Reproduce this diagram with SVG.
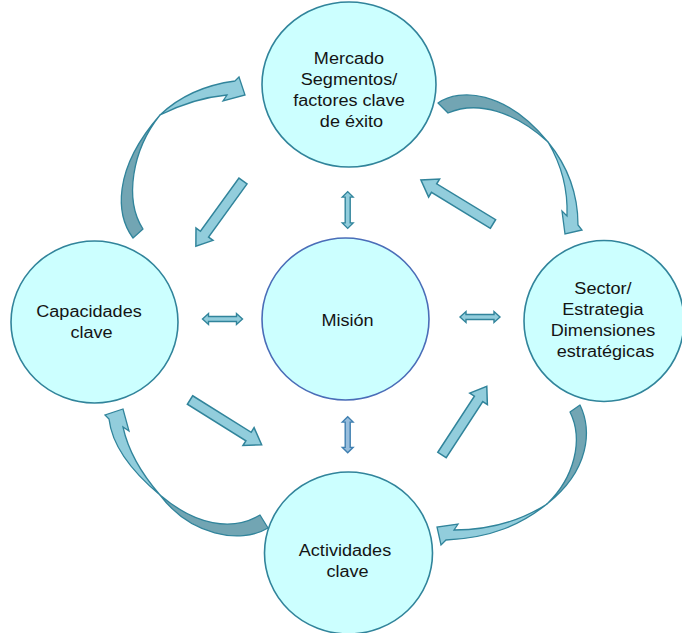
<svg xmlns="http://www.w3.org/2000/svg" xmlns:xlink="http://www.w3.org/1999/xlink" width="682" height="633" viewBox="0 0 682 633">
  <style>
    .node ellipse { fill: #CCFFFF; stroke: #31849B; stroke-width: 1.6; }
    #mision ellipse { stroke: #4A6DB8; }
    .lbl { font-family: "Liberation Sans", Arial, sans-serif; font-size: 16px; fill: #141414; text-anchor: middle; }
    .blk { fill: #92CDDC; stroke: #31849B; stroke-width: 1.5; stroke-linejoin: miter; }
    .dbl { fill: #92CDDC; stroke: #31849B; stroke-width: 1.4; }
    .dbl-b { fill: #98BEDD; stroke: #3F7FB0; stroke-width: 1.4; }
    .shade { fill: #72A5B3; stroke: #31849B; stroke-width: 1.3; stroke-linejoin: round; }
    .face { fill: #92CDDC; stroke: #31849B; stroke-width: 1.3; stroke-linejoin: miter; }
  </style>
  <defs>
    <!-- straight block arrow, tail at origin, pointing along +x -->
    <path id="blockArrow" d="M0,-5 L67,-5 L67,-10.5 L82,0 L67,10.5 L67,5 L0,5 Z"/>
    <!-- horizontal two-headed arrow centred on origin -->
    <path id="twoWay" d="M-20,0 L-14,-5.5 L-14,-2.5 L14,-2.5 L14,-5.5 L20,0 L14,5.5 L14,2.5 L-14,2.5 L-14,5.5 Z"/>
  </defs>

  <!-- connectors -->
  <g id="connectors">
    <!-- curved arrows running clockwise round the outer ring -->
    <g id="curve-left-top">
      <path class="shade" d="M133,238 C116,215 112,170 160,115 C132,150 124,200 143,229 Z"/>
      <path class="face" d="M160,115 C180,96 205,85 235,81 L239,77 L245,95 L223,101 L227,95 C205,97 182,104 160,115 Z"/>
    </g>
    <g id="curve-top-right">
      <path class="shade" d="M438,103 C460,88 505,90 548,142 C515,112 478,100 448,113 Z"/>
      <path class="face" d="M548,142 C566,164 578,190 578,225 L582,230 L565,234 L562,211 L567,216 C568,190 561,164 548,142 Z"/>
    </g>
    <g id="curve-right-bottom">
      <path class="shade" d="M580,405 C592,430 590,470 547,504 C574,478 584,440 570,412 Z"/>
      <path class="face" d="M547,504 C522,524 492,538 446,540 L441,545 L437,527 L458,524 L454,530 C490,530 522,520 547,504 Z"/>
    </g>
    <g id="curve-bottom-left">
      <path class="shade" d="M268,528 C240,545 190,535 160,495 C195,525 232,532 260,515 Z"/>
      <path class="face" d="M160,495 C130,470 112,445 109,419 L105,415 L123,409 L129,431 L123,427 C128,450 140,472 160,495 Z"/>
    </g>

    <!-- straight arrows between the outer circles -->
    <use class="blk" xlink:href="#blockArrow" transform="translate(243 181) rotate(125.9) scale(0.98 1)"/>
    <use class="blk" xlink:href="#blockArrow" transform="translate(493 224) rotate(211.4) scale(1.03 1)"/>
    <use class="blk" xlink:href="#blockArrow" transform="translate(442 455) rotate(-56.9) scale(1.0 1)"/>
    <use class="blk" xlink:href="#blockArrow" transform="translate(190 400) rotate(32) scale(1.03 1)"/>

    <!-- two-headed arrows around the centre -->
    <use class="dbl" xlink:href="#twoWay" transform="translate(222.5 319)"/>
    <use class="dbl" xlink:href="#twoWay" transform="translate(480 317)"/>
    <use class="dbl" xlink:href="#twoWay" transform="translate(347.7 210) rotate(90) scale(0.92 1)"/>
    <use class="dbl-b" xlink:href="#twoWay" transform="translate(347.7 434.7) rotate(90) scale(0.9 1)"/>
  </g>

  <!-- nodes -->
  <g id="mercado" class="node">
    <ellipse cx="349" cy="84.5" rx="87" ry="82.5"/>
    <text class="lbl" transform="translate(351.5 0) scale(1.13 1)">
      <tspan x="0" y="64">Mercado</tspan>
      <tspan x="0" y="85">Segmentos/</tspan>
      <tspan x="0" y="106">factores clave</tspan>
      <tspan x="0" y="127">de éxito</tspan>
    </text>
  </g>

  <g id="sector" class="node">
    <ellipse cx="604" cy="321" rx="80" ry="80.5"/>
    <text class="lbl" transform="translate(605.5 0) scale(1.13 1)">
      <tspan x="0" y="294">Sector/</tspan>
      <tspan x="0" y="315">Estrategia</tspan>
      <tspan x="0" y="336">Dimensiones</tspan>
      <tspan x="0" y="357">estratégicas</tspan>
    </text>
  </g>

  <g id="capacidades" class="node">
    <ellipse cx="94.5" cy="322" rx="83.5" ry="81"/>
    <text class="lbl" transform="translate(91.5 0) scale(1.13 1)">
      <tspan x="0" y="317">Capacidades</tspan>
      <tspan x="0" y="338">clave</tspan>
    </text>
  </g>

  <g id="actividades" class="node">
    <ellipse cx="348.5" cy="553" rx="84" ry="81"/>
    <text class="lbl" transform="translate(347.5 0) scale(1.13 1)">
      <tspan x="0" y="556">Actividades</tspan>
      <tspan x="0" y="577">clave</tspan>
    </text>
  </g>

  <g id="mision" class="node">
    <ellipse cx="345.5" cy="319" rx="83.5" ry="81"/>
    <text class="lbl" transform="translate(347.5 0) scale(1.13 1)">
      <tspan x="0" y="326">Misión</tspan>
    </text>
  </g>
</svg>
